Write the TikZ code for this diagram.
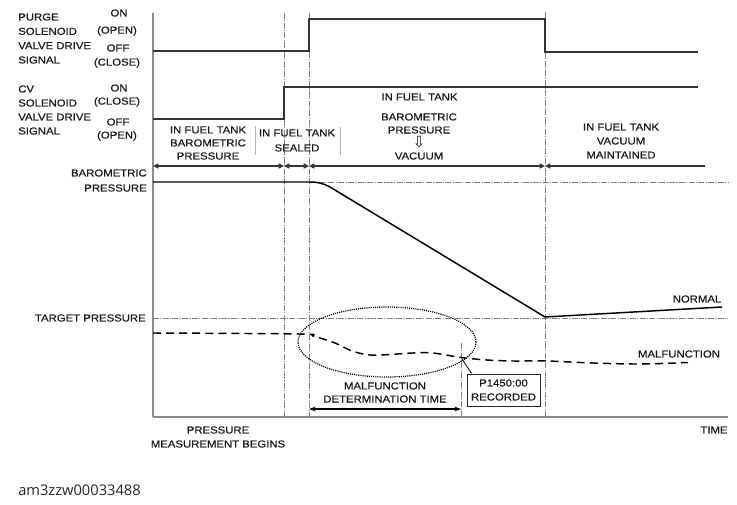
\documentclass[tikz,border=0pt]{standalone}
\usepackage{fontspec}
\setmainfont[FakeStretch=1.12,FakeBold=0.5]{Liberation Sans}
\newfontfamily\arrowfont{DejaVu Sans}
\newfontfamily\idfont{Open Sans}
\usetikzlibrary{arrows.meta,shapes.geometric}
\begin{document}
\begin{tikzpicture}[x=0.75pt,y=-0.75pt,
  lbl/.style={inner sep=0pt, font=\fontsize{7.6pt}{9.8pt}\selectfont, align=center, text=black!90},
  sig/.style={draw=black!80, line width=1pt},
  axisv/.style={draw=black!45, line width=1pt},
  axish/.style={draw=black!45, line width=1.4pt},
  dashdot/.style={draw=black!50, line width=0.5pt, dash pattern=on 4.5pt off 1pt on 0.8pt off 1pt},
  rowline/.style={draw=black!80, line width=0.9pt},
  tipb/.style={{Triangle[width=3.8pt,length=4pt]}-{Triangle[width=3.8pt,length=4pt]}},
  tipl/.style={{Triangle[width=3.8pt,length=4pt]}-},
  sepline/.style={draw=black!30, line width=0.6pt},
  press/.style={draw=black, line width=1.1pt},
  malf/.style={draw=black, line width=1.1pt, dash pattern=on 6pt off 3.8pt},
  ring/.style={draw=black, line width=0.95pt, dash pattern=on 0.8pt off 0.8pt},
  dimarrow/.style={draw=black, line width=0.9pt, {Stealth[length=5pt,width=3.6pt]}-{Stealth[length=5pt,width=3.6pt]}}
]
\useasboundingbox (0,0) rectangle (737,505);

% axes
\coordinate (O) at (153,417);
\coordinate (Ytop) at (153,13);
\coordinate (Xend) at (728,417);
\draw[axisv] (Ytop) -- (O);
\draw[axish] (O) -- (Xend);

% vertical dash-dot guides
\coordinate (v1t) at (284,13);  \coordinate (v1b) at (284,417);
\coordinate (v2t) at (309,13);  \coordinate (v2b) at (309,417);
\coordinate (v3t) at (545,12);  \coordinate (v3b) at (545,417);
\coordinate (v4t) at (461,343); \coordinate (v4b) at (461,417);
\draw[dashdot] (v1t) -- (v1b);
\draw[dashdot] (v2t) -- (v2b);
\draw[dashdot] (v3t) -- (v3b);
\draw[dashdot] (v4t) -- (v4b);

% horizontal dash-dot guides
\coordinate (hb1) at (309,182); \coordinate (hb2) at (728,182);
\coordinate (ht1) at (153,318); \coordinate (ht2) at (728,318);
\draw[dashdot] (hb1) -- (hb2);
\draw[dashdot] (ht1) -- (ht2);

% purge signal
\draw[sig] (153,51) -- (309,51) -- (309,19) -- (545,19) -- (545,52) -- (698,52);
% CV signal
\draw[sig] (153,119) -- (284,119) -- (284,87) -- (698,87);

% arrow row
\coordinate (r0) at (153,166);
\coordinate (r1) at (284,166);
\coordinate (r2) at (309,166);
\coordinate (r3) at (545,166);
\coordinate (r4) at (705,166);
\draw[rowline,tipb] (r0) -- (r1);
\draw[rowline,tipb] (r1) -- (r2);
\draw[rowline,tipb] (r2) -- (r3);
\draw[rowline,tipl] (r3) -- (r4);

% separators
\draw[sepline] (255,126) -- (255,155);
\draw[sepline] (340,127) -- (340,155);

% pressure curve (normal)
\draw[press] (153,182) -- (309,182) .. controls (318,182) and (322,183) .. (330,187) -- (545,317) -- (722,307);

% malfunction curve
\coordinate (cross) at (461,357.5);
\draw[malf] plot[smooth, tension=0.55] coordinates {(153,333) (300,334) (313,336) (335,343) (352,351) (370,355) (390,354.5) (413,353) (433,353) (461,357.5) (487,360) (513,361) (547,361) (593,363) (640,364) (688,362.5)};

% ellipse
\node[ring, ellipse, minimum width=133.5pt, minimum height=52.5pt, inner sep=0pt] (ell) at (387,342) {};

% recorded box
\node[lbl, draw=black!85, line width=0.7pt, minimum width=54.75pt, minimum height=24pt, font=\fontsize{7.6pt}{10.5pt}\selectfont] (rec) at (503.5,390) {P1450:00\\RECORDED};
\draw[draw=black!85, line width=0.7pt] ([xshift=3.75pt]rec.north west) -- (cross);

% determination time arrow
\coordinate (d0) at (309,409);
\coordinate (d1) at (461,409);
\draw[dimarrow] (d0) -- (d1);

% left labels
\node[lbl, align=left, anchor=west, font=\fontsize{7.6pt}{10.75pt}\selectfont] (purge) at (18,38.5) {PURGE\\SOLENOID\\VALVE DRIVE\\SIGNAL};
\node[lbl] (on1) at (119,13) {ON};
\node[lbl] (open1) at (117,31) {(OPEN)};
\node[lbl] (off1) at (118,48) {OFF};
\node[lbl] (close1) at (117,63) {(CLOSE)};

\node[lbl, align=left, anchor=west, font=\fontsize{7.6pt}{10.5pt}\selectfont] (cv) at (18,110) {CV\\SOLENOID\\VALVE DRIVE\\SIGNAL};
\node[lbl] (on2) at (119,88) {ON};
\node[lbl] (close2) at (117,102) {(CLOSE)};
\node[lbl] (off2) at (118,122) {OFF};
\node[lbl] (open2) at (117,136) {(OPEN)};

% phase labels
\node[lbl] (ph1) at (208,143) {IN FUEL TANK\\BAROMETRIC\\PRESSURE};
\node[lbl, font=\fontsize{7.6pt}{11.25pt}\selectfont] (ph2) at (297,140.5) {IN FUEL TANK\\SEALED};
\node[lbl] (ph3a) at (419.5,97) {IN FUEL TANK};
\node[lbl] (ph3b) at (419,123.5) {BAROMETRIC\\PRESSURE};
\node[lbl, font=\arrowfont\fontsize{11.5pt}{12pt}\selectfont] (ph3c) at (419,142) {⇩};
\node[lbl] (ph3d) at (419,156) {VACUUM};
\node[lbl, font=\fontsize{7.6pt}{10.5pt}\selectfont] (ph4) at (621,141) {IN FUEL TANK\\VACUUM\\MAINTAINED};

% pressure labels
\node[lbl, align=right, anchor=east, font=\fontsize{7.6pt}{11.25pt}\selectfont] (baro) at (147,180.5) {BAROMETRIC\\PRESSURE};
\node[lbl, anchor=east] (target) at (146,318) {TARGET PRESSURE};
\node[lbl] (normal) at (697,299) {NORMAL};
\node[lbl] (malfl) at (679,354) {MALFUNCTION};
\node[lbl] (detl) at (385,392.5) {MALFUNCTION\\DETERMINATION TIME};
\node[lbl, font=\fontsize{7.6pt}{10.5pt}\selectfont] (pmb) at (218,437) {PRESSURE\\MEASUREMENT BEGINS};
\node[lbl] (time) at (714,430) {TIME};

\node[inner sep=0pt, anchor=west, font=\idfont\fontsize{11pt}{13pt}\selectfont, text=black!85] (id) at (18,490) {am3zzw00033488};
\end{tikzpicture}
\end{document}
